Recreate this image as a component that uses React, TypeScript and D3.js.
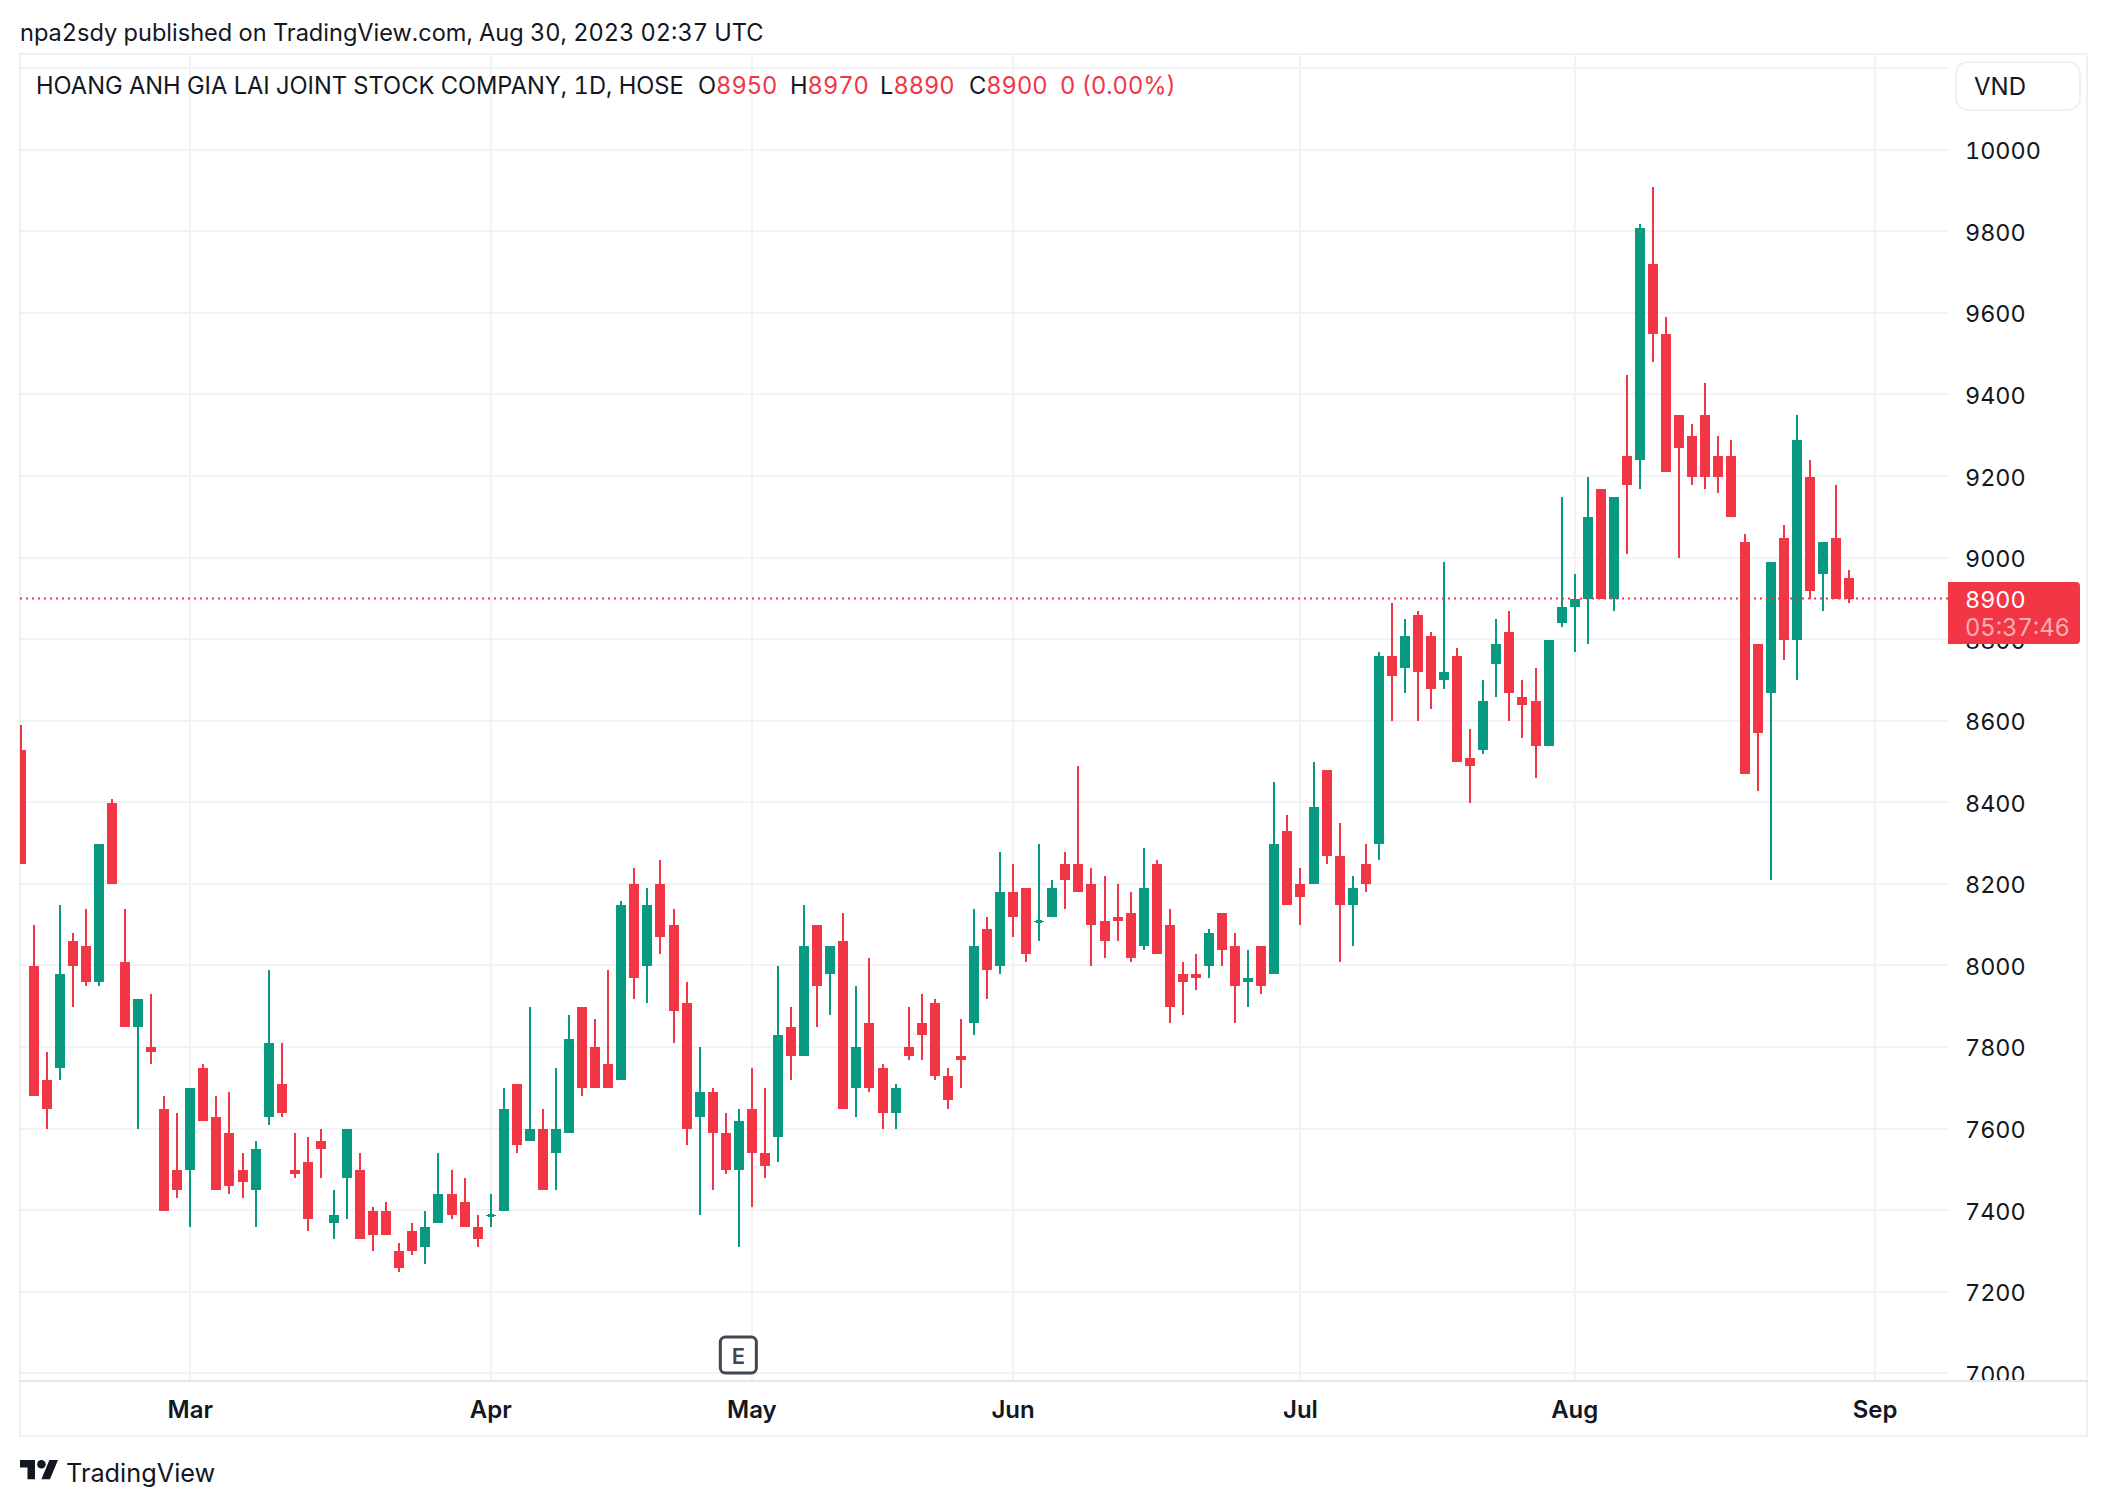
import * as d3 from 'd3';

const FONT = 'Inter, "Noto Sans", sans-serif';

const size = { width: 2108, height: 1506 };

const color = {
  up: '#089981',
  down: '#F23645',
  grid: '#F3F3F5',
  border: '#2A2E39',
  buttonBorder: '#F0F0F5',
  axisLine: '#E4E6EE',
  text: '#131722',
  marker: '#434651',
};

// one entry per trading day, left to right
const opens = [
  8530, 8000, 7720, 7750, 8060, 8050, 7960, 8400, 8010, 7850, 7800, 7650, 7500, 7500, 7750, 7630, 7590, 7500, 7450, 7630,
  7710, 7500, 7520, 7570, 7370, 7480, 7500, 7400, 7400, 7300, 7350, 7310, 7370, 7440, 7420, 7360, 7390, 7400, 7710, 7570,
  7600, 7540, 7590, 7900, 7800, 7760, 7720, 8200, 8000, 8200, 8100, 7910, 7630, 7690, 7590, 7500, 7650, 7540, 7580, 7850,
  7780, 8100, 7980, 8060, 7700, 7860, 7750, 7640, 7800, 7860, 7910, 7730, 7780, 7860, 8090, 8000, 8180, 8190, 8110, 8120,
  8250, 8250, 8200, 8110, 8120, 8130, 8050, 8250, 8100, 7980, 7980, 8000, 8130, 8050, 7960, 8050, 7980, 8330, 8200, 8200,
  8480, 8270, 8150, 8250, 8300, 8760, 8730, 8860, 8810, 8700, 8760, 8510, 8530, 8740, 8820, 8660, 8650, 8540, 8840, 8880,
  8900, 9170, 8900, 9250, 9240, 9720, 9550, 9350, 9300, 9350, 9250, 9250, 9040, 8790, 8670, 9050, 8800, 9200, 8960, 9050,
  8950,
];
const highs = [
  8590, 8100, 7790, 8150, 8080, 8140, 8300, 8410, 8140, 7920, 7930, 7680, 7640, 7700, 7760, 7680, 7690, 7540, 7570, 7990,
  7810, 7590, 7580, 7600, 7450, 7600, 7540, 7410, 7420, 7320, 7370, 7400, 7540, 7500, 7480, 7390, 7440, 7700, 7710, 7900,
  7650, 7750, 7880, 7900, 7870, 7990, 8160, 8240, 8190, 8260, 8140, 7960, 7800, 7700, 7640, 7650, 7750, 7700, 8000, 7900,
  8150, 8100, 8050, 8130, 7950, 8020, 7760, 7710, 7900, 7930, 7920, 7750, 7870, 8140, 8120, 8280, 8250, 8190, 8300, 8210,
  8280, 8490, 8240, 8220, 8200, 8180, 8290, 8260, 8140, 8010, 8030, 8090, 8130, 8080, 8040, 8050, 8450, 8370, 8240, 8500,
  8480, 8350, 8220, 8300, 8770, 8890, 8850, 8870, 8820, 8990, 8780, 8580, 8700, 8850, 8870, 8700, 8730, 8800, 9150, 8960,
  9200, 9170, 9150, 9450, 9820, 9910, 9590, 9350, 9330, 9430, 9300, 9290, 9060, 8790, 8990, 9080, 9350, 9240, 9040, 9180,
  8970,
];
const lows = [
  8250, 7680, 7600, 7720, 7900, 7950, 7950, 8200, 7850, 7600, 7760, 7400, 7430, 7360, 7620, 7450, 7440, 7430, 7360, 7610,
  7630, 7480, 7350, 7480, 7330, 7380, 7330, 7300, 7340, 7250, 7290, 7270, 7370, 7380, 7360, 7310, 7360, 7400, 7540, 7570,
  7450, 7450, 7590, 7680, 7700, 7700, 7720, 7920, 7910, 8030, 7810, 7560, 7390, 7450, 7490, 7310, 7410, 7480, 7520, 7720,
  7780, 7850, 7880, 7650, 7630, 7690, 7600, 7600, 7770, 7770, 7720, 7650, 7700, 7830, 7920, 7980, 8070, 8010, 8060, 8120,
  8140, 8180, 8000, 8020, 8060, 8010, 8040, 8030, 7860, 7880, 7940, 7970, 8000, 7860, 7900, 7930, 7980, 8150, 8100, 8200,
  8250, 8010, 8050, 8180, 8260, 8600, 8670, 8600, 8630, 8680, 8500, 8400, 8520, 8660, 8600, 8560, 8460, 8540, 8830, 8770,
  8790, 8900, 8870, 9010, 9170, 9480, 9210, 9000, 9180, 9170, 9160, 9100, 8470, 8430, 8210, 8750, 8700, 8900, 8870, 8900,
  8890,
];
const closes = [
  8250, 7680, 7650, 7980, 8000, 7960, 8300, 8200, 7850, 7920, 7790, 7400, 7450, 7700, 7620, 7450, 7460, 7470, 7550, 7810,
  7640, 7490, 7380, 7550, 7390, 7600, 7330, 7340, 7340, 7260, 7300, 7360, 7440, 7390, 7360, 7330, 7390, 7650, 7560, 7600,
  7450, 7600, 7820, 7700, 7700, 7700, 8150, 7970, 8150, 8070, 7890, 7600, 7690, 7590, 7500, 7620, 7540, 7510, 7830, 7780,
  8050, 7950, 8050, 7650, 7800, 7700, 7640, 7700, 7780, 7830, 7730, 7670, 7770, 8050, 7990, 8180, 8120, 8030, 8110, 8190,
  8210, 8180, 8100, 8060, 8110, 8020, 8190, 8030, 7900, 7960, 7970, 8080, 8040, 7950, 7970, 7950, 8300, 8150, 8170, 8390,
  8270, 8150, 8190, 8200, 8760, 8710, 8810, 8720, 8680, 8720, 8500, 8490, 8650, 8790, 8670, 8640, 8540, 8800, 8880, 8900,
  9100, 8900, 9150, 9180, 9810, 9550, 9210, 9270, 9200, 9200, 9200, 9100, 8470, 8570, 8990, 8800, 9290, 8920, 9040, 8900,
  8900,
];

const monthLabels = ['Mar', 'Apr', 'May', 'Jun', 'Jul', 'Aug', 'Sep'];
const monthIndexes = [13, 36, 56, 76, 98, 119, 142];
const priceTicks = [7000, 7200, 7400, 7600, 7800, 8000, 8200, 8400, 8600, 8800, 9000, 9200, 9400, 9600, 9800, 10000];
const extraGridTicks = [10200];
const earningsIndex = 55;
const lastPrice = 8900;

const pane = { left: 20, right: 1948, top: 55, bottom: 1380 };

const xScale = d3
  .scaleLinear()
  .domain([0, 140])
  .range([20.5, 1849]);
const yScale = d3
  .scaleLinear()
  .domain([7000, 10000])
  .range([1373.2, 149.8]);

const px = (v: number) => Math.round(v);
// candles sit about half a pixel under the grid
const candleY = (v: number) => Math.round(yScale(v) + 0.5);

const Candle = ({ i }: { i: number }) => {
  const x = px(xScale(i));
  const fill = closes[i] >= opens[i] ? color.up : color.down;
  const top = candleY(Math.max(opens[i], closes[i]));
  const bottom = candleY(Math.min(opens[i], closes[i]));
  const high = candleY(highs[i]);
  const low = candleY(lows[i]);
  return (
    <g fill={fill}>
      <rect x={x - 1} y={high} width={2} height={low - high} />
      {top === bottom ? (
        <>
          <rect x={x - 5} y={top} width={10} height={1} />
          <rect x={x - 3} y={top - 1} width={6} height={3} />
        </>
      ) : (
        <rect x={x - 5} y={top} width={10} height={bottom - top} />
      )}
    </g>
  );
};

const App = () => {
  const lastY = yScale(lastPrice);
  const markerX = xScale(earningsIndex) - 11.5;

  return (
    <svg
      width={size.width}
      height={size.height}
      style={{
        position: 'absolute',
        left: 0,
        top: 0,
        background: '#fff',
        fontFamily: FONT,
        fontVariantNumeric: 'tabular-nums',
      }}
    >
      <defs>
        <clipPath id="pane">
          <rect x={pane.left} y={pane.top} width={pane.right - pane.left} height={pane.bottom - pane.top} />
        </clipPath>
        <clipPath id="axis">
          <rect x={pane.right} y={pane.top} width={140} height={pane.bottom - pane.top} />
        </clipPath>
      </defs>

      <text x={20} y={32} dominantBaseline="central" fontSize={23.55} fill={color.text}>
        npa2sdy published on TradingView.com, Aug 30, 2023 02:37 UTC
      </text>

      {/* grid */}
      <g clipPath="url(#pane)">
        {[...extraGridTicks, ...priceTicks].map(t => (
          <rect key={t} x={pane.left} y={px(yScale(t)) - 1} width={pane.right - pane.left} height={2} fill={color.grid} />
        ))}
      </g>
      {monthIndexes.map(i => (
        <rect key={i} x={px(xScale(i)) - 1} y={pane.top} width={2} height={pane.bottom - pane.top} fill={color.grid} />
      ))}

      {/* candles */}
      <g clipPath="url(#pane)">
        {opens.map((_, i) => (
          <Candle key={i} i={i} />
        ))}
        <line
          x1={pane.left}
          x2={pane.right}
          y1={lastY}
          y2={lastY}
          stroke={color.down}
          strokeWidth={2}
          strokeDasharray="2 4"
        />
      </g>

      {/* legend */}
      <g fontSize={23.65}>
        <text x={36} y={85} dominantBaseline="central" fill={color.text}>
          HOANG ANH GIA LAI JOINT STOCK COMPANY, 1D, HOSE
        </text>
        {[
          ['O', '8950', 698],
          ['H', '8970', 790],
          ['L', '8890', 880],
          ['C', '8900', 969],
        ].map(([k, v, x]) => (
          <text key={k as string} x={x as number} y={85} dominantBaseline="central" fill={color.text}>
            {k}
            <tspan fill={color.down}>{v}</tspan>
          </text>
        ))}
        <text x={1060} y={85} dominantBaseline="central" fill={color.down}>
          0 (0.00%)
        </text>
      </g>

      {/* earnings marker */}
      <g>
        <rect x={markerX - 7} y={1337} width={36} height={36} rx={5} fill="#fff" stroke={color.marker} strokeWidth={3} />
        <text
          x={markerX + 11}
          y={1355.5}
          textAnchor="middle"
          dominantBaseline="central"
          fontSize={22}
          fontWeight={600}
          fill={color.marker}
        >
          E
        </text>
      </g>

      {/* price axis */}
      <g clipPath="url(#axis)">
        {priceTicks.map(t => (
          <text key={t} x={1965} y={yScale(t) + 1} dominantBaseline="central" fontSize={23.4} fill={color.text}>
            {t}
          </text>
        ))}
      </g>
      <path d="M1948,582H2076a4,4 0 0 1 4,4V640a4,4 0 0 1 -4,4H1948Z" fill={color.down} />
      <text x={1965} y={599} dominantBaseline="central" fontSize={23.4} fill="#fff">
        {lastPrice}
      </text>
      <text x={1965} y={627} dominantBaseline="central" fontSize={23.7} fill="#fff" fillOpacity={0.6}>
        05:37:46
      </text>

      <rect x={1956} y={62} width={124} height={48} rx={12} fill="#fff" stroke={color.buttonBorder} strokeWidth={2} />
      <text x={1974} y={86} dominantBaseline="central" fontSize={24} fill={color.text}>
        VND
      </text>

      {/* time axis */}
      {monthIndexes.map((i, k) => (
        <text
          key={i}
          x={xScale(i)}
          y={1409}
          textAnchor="middle"
          dominantBaseline="central"
          fontSize={24}
          fontWeight={600}
          fill={color.text}
        >
          {monthLabels[k]}
        </text>
      ))}
      <rect x={20} y={1380} width={2067} height={2} fill={color.axisLine} />

      {/* frame */}
      <rect x={20} y={54} width={2067} height={1382} fill="none" stroke={color.border} strokeOpacity={0.07} strokeWidth={2} />

      {/* logo */}
      <g transform="translate(20,1455.7) scale(1.07)" fill={color.text}>
        <path d="M14 22H7V11H0V4h14v18zM28 22h-8l7.5-18h8L28 22z" />
        <circle cx={20} cy={8} r={4} />
      </g>
      <text x={66} y={1472} dominantBaseline="central" fontSize={25.3} fill={color.text}>
        TradingView
      </text>
    </svg>
  );
};

export default App;
